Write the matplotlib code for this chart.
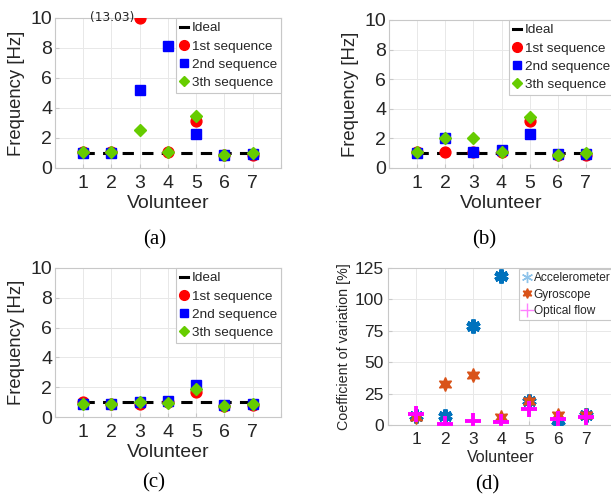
import matplotlib
matplotlib.use("Agg")
import matplotlib.pyplot as plt
from matplotlib.lines import Line2D
import numpy as np

volunteers = [1, 2, 3, 4, 5, 6, 7]
ideal = [1, 1, 1, 1, 1, 1, 1]

# Panel (a)
a_seq1 = [1.10, 1.10, 13.03, 1.10, 3.15, 0.85, 0.85]
a_seq2 = [1.00, 1.00, 5.20, 8.15, 2.30, 0.90, 0.95]
a_seq3 = [1.10, 1.10, 2.55, 1.10, 3.45, 0.85, 1.00]

# Panel (b)
b_seq1 = [1.10, 1.10, 1.10, 1.10, 3.15, 0.85, 0.85]
b_seq2 = [1.00, 2.05, 1.10, 1.20, 2.30, 0.95, 0.95]
b_seq3 = [1.10, 2.05, 2.05, 1.10, 3.45, 0.85, 1.00]

# Panel (c)
c_seq1 = [1.00, 0.90, 0.90, 1.00, 1.65, 0.75, 0.80]
c_seq2 = [0.85, 0.90, 1.00, 1.05, 2.15, 0.80, 0.85]
c_seq3 = [0.85, 0.90, 1.00, 0.95, 1.90, 0.75, 0.85]

# Panel (d)
d_accel = [7.5, 7.0, 78.8, 119.0, 19.5, 0.0, 8.0]
d_gyro = [6.7, 32.5, 40.0, 6.7, 19.5, 8.0, 8.0]
d_optic = [8.8, 0.8, 3.5, 2.4, 12.8, 4.8, 6.7]

seq_labels = ["Ideal", "1st sequence", "2nd sequence", "3th sequence"]
d_labels = ["Accelerometer", "Gyroscope", "Optical flow"]
captions = ["(a)", "(b)", "(c)", "(d)"]

plt.rcParams['font.family'] = ['Liberation Sans', 'DejaVu Sans']
TXT = '#262626'
GRIDC = '#E8E8E8'
SPINE = '#C8C8C8'

fig = plt.figure(figsize=(6.11, 4.95), dpi=100)
W, H = 611, 495


def ax_at(l, t, r, b):
    return fig.add_axes([l / W, 1 - b / H, (r - l) / W, (b - t) / H])


def style(ax):
    for s in ax.spines.values():
        s.set_color(SPINE)
        s.set_linewidth(0.8)
    ax.grid(True, color=GRIDC, linewidth=0.7)
    ax.set_axisbelow(True)
    ax.tick_params(direction='in', length=3, color=SPINE, labelcolor=TXT)


def freq_panel(ax, s1, s2, s3, legend_bbox, clip_note=False):
    style(ax)
    ax.plot(volunteers, ideal, color='black', linestyle=(0, (3.7, 2.7)), linewidth=2.2, zorder=2)
    y1 = np.minimum(np.array(s1), 10.0)
    ax.plot(volunteers, y1, 'o', color='red', markersize=7.8, linestyle='none', zorder=3)
    ax.plot(volunteers, s2, 's', color='blue', markersize=6.5, linestyle='none', zorder=4)
    ax.plot(volunteers, s3, 'D', color='#66CC00', markersize=6.0, linestyle='none', zorder=5)
    ax.set_xlim(0, 8)
    ax.set_ylim(0, 10)
    ax.set_xticks([0, 1, 2, 3, 4, 5, 6, 7, 8])
    ax.set_xticklabels(['', '1', '2', '3', '4', '5', '6', '7', ''])
    ax.set_yticks([0, 2, 4, 6, 8, 10])
    ax.tick_params(labelsize=14)
    ax.tick_params(axis='x', pad=5)
    ax.tick_params(axis='y', pad=2)
    ax.set_xlabel('Volunteer', fontsize=14, color=TXT, labelpad=2)
    ax.set_ylabel('Frequency [Hz]', fontsize=13.3, color=TXT, labelpad=4)
    if clip_note:
        for xv, v in zip(volunteers, s1):
            if v > 10:
                ax.text(xv - 0.2, 10, '(%.2f)' % v, ha='right', va='center',
                        fontsize=8.8, color=TXT, family='DejaVu Sans', clip_on=False)
    handles = [
        Line2D([], [], color='black', linewidth=2.2),
        Line2D([], [], marker='o', color='red', linestyle='none', markersize=7),
        Line2D([], [], marker='s', color='blue', linestyle='none', markersize=5.5),
        Line2D([], [], marker='D', color='#66CC00', linestyle='none', markersize=5.5),
    ]
    leg = ax.legend(handles, seq_labels, loc='upper right', bbox_to_anchor=legend_bbox,
                    fontsize=9.7, handlelength=0.6, handletextpad=0.3, labelspacing=0.42,
                    borderpad=0.3, borderaxespad=0.0, fancybox=False, framealpha=1)
    leg.get_frame().set_edgecolor(SPINE)
    leg.get_frame().set_linewidth(0.8)
    for t in leg.get_texts():
        t.set_color(TXT)


ax_a = ax_at(55, 18, 281, 168)
freq_panel(ax_a, a_seq1, a_seq2, a_seq3, (1.0, 1.0), clip_note=True)

ax_b = ax_at(389, 20, 614, 168)
freq_panel(ax_b, b_seq1, b_seq2, b_seq3, (1.0, 1.0))

ax_c = ax_at(55, 268, 281, 417)
freq_panel(ax_c, c_seq1, c_seq2, c_seq3, (1.0, 1.0))

ax_d = ax_at(388, 268, 614, 425)
style(ax_d)
ax_d.plot(volunteers, d_accel, linestyle='none', marker=(6, 2, 0), color='#0072BD',
          markersize=10, markeredgewidth=3.2, zorder=3)
ax_d.plot(volunteers, d_gyro, linestyle='none', marker=(6, 1, 0), color='#D95319',
          markersize=10, zorder=4)
ax_d.plot(volunteers, d_optic, linestyle='none', marker='+', color='#FF00FF',
          markersize=11, markeredgewidth=2.8, zorder=5)
ax_d.set_xlim(0, 8)
ax_d.set_ylim(0, 125)
ax_d.set_xticks([0, 1, 2, 3, 4, 5, 6, 7, 8])
ax_d.set_xticklabels(['', '1', '2', '3', '4', '5', '6', '7', ''])
ax_d.set_yticks([0, 25, 50, 75, 100, 125])
ax_d.tick_params(labelsize=12.5)
ax_d.tick_params(axis='x', pad=5)
ax_d.tick_params(axis='y', pad=3)
ax_d.set_xlabel('Volunteer', fontsize=11.5, color=TXT, labelpad=2)
ax_d.set_ylabel('Coefficient of variation [%]', fontsize=10.3, color=TXT, labelpad=3)
d_handles = [
    Line2D([], [], linestyle='none', marker=(6, 2, 0), color='#8EC3EA', markersize=8, markeredgewidth=1),
    Line2D([], [], linestyle='none', marker=(6, 1, 0), color='#D95319', markersize=7),
    Line2D([], [], linestyle='none', marker='+', color='#FF80FF', markersize=10, markeredgewidth=1),
]
leg = ax_d.legend(d_handles, d_labels, loc='upper right', bbox_to_anchor=(1.0, 0.995),
                  fontsize=8.6, handlelength=0.6, handletextpad=0.3, labelspacing=0.35,
                  borderpad=0.3, borderaxespad=0.0, fancybox=False, framealpha=1)
leg.get_frame().set_edgecolor(SPINE)
leg.get_frame().set_linewidth(0.8)
for t in leg.get_texts():
    t.set_color(TXT)

cap_pos = [(155, 240), (484, 240), (154, 483), (487, 485)]
for cap, (x, y) in zip(captions, cap_pos):
    fig.text(x / W, 1 - y / H, cap, ha='center', va='center', fontsize=15,
             family='Liberation Serif', color='black')

fig.savefig('out.png', dpi=100)
